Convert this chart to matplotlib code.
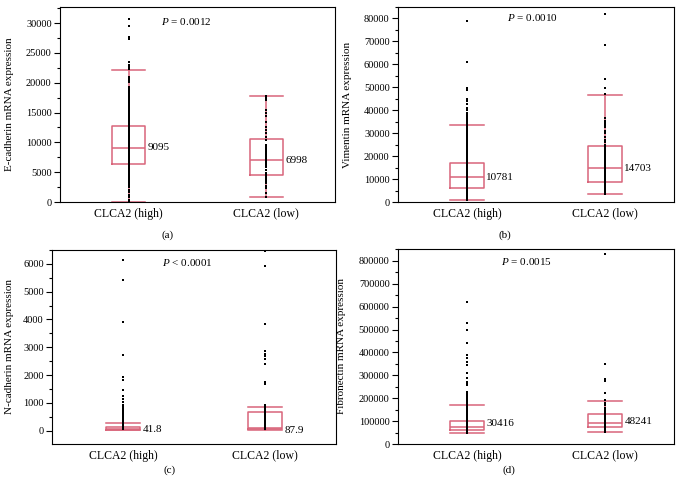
import matplotlib
matplotlib.use('Agg')
import matplotlib.pyplot as plt
from matplotlib.ticker import MultipleLocator

plt.rcParams['font.family'] = ['Liberation Serif', 'DejaVu Serif']
plt.rcParams['mathtext.fontset'] = 'custom'
plt.rcParams['mathtext.it'] = 'Liberation Serif:italic'
plt.rcParams['mathtext.rm'] = 'Liberation Serif'

groups = ['CLCA2 (high)', 'CLCA2 (low)']

# (a) E-cadherin
ecad_high = [30700, 29500, 27700, 27400, 23400, 23000, 22700, 22300, 21000, 20700,
             20400, 20100, 19300, 19000, 18700, 18400, 18100, 17800, 17500, 17200,
             16900, 16600, 16300, 16000, 15700, 15400, 15100, 14800, 14500, 14200,
             13900, 13600, 13300, 13000, 12700, 12400, 12100, 11800, 11500, 11200,
             10900, 10600, 10300, 10000, 9700, 9400, 9100, 8800, 8500, 8200, 7900,
             7600, 7300, 7000, 6700, 6400, 6100, 5800, 5500, 5200, 4900, 4600, 4300,
             4000, 3700, 3400, 3100, 2800, 2500, 2000, 1600, 1200, 800, 300, 0]
ecad_low = [17850, 17400, 17120, 15440, 14880, 14440, 13480, 12640, 12090, 11530,
            10860, 10410, 9570, 9290, 9010, 8730, 8450, 8170, 7890, 7610, 7330, 7050,
            6770, 6490, 6210, 5820, 5290, 4920, 4530, 4250, 3970, 3690, 3410, 3140,
            2690, 2300, 1460, 890]
ecad_stats = [(6330, 9095, 12800, 0, 22200), (4530, 6998, 10520, 900, 17700)]
ecad_labels = ['9095', '6998']

# (b) Vimentin
vim_high = [79000, 61000, 49500, 49000, 45000, 44000, 42500, 41000, 40000, 39000,
            38000, 37300, 36600, 36000, 35200, 34400, 33600, 32800, 32000, 31200,
            30400, 29600, 28800, 28000, 27200, 26400, 25600, 24800, 24000, 23200,
            22400, 21600, 20800, 20000, 19200, 18400, 17600, 16800, 16000, 15200,
            14400, 13600, 12800, 12000, 11200, 10400, 9600, 8800, 8000, 7200, 6400,
            5600, 4800, 4000, 3200, 2400, 1600, 900]
vim_low = [81800, 68500, 53500, 49500, 47000, 36500, 35500, 34500, 33500, 32500,
           31000, 30000, 28500, 27000, 26000, 25000, 24200, 23400, 22600, 21800,
           21000, 20200, 19400, 18600, 17800, 17000, 16200, 15400, 14600, 13800,
           13000, 12200, 11400, 10600, 9800, 9000, 8200, 7400, 6600, 5800, 5000,
           4200, 3400]
vim_stats = [(5980, 10781, 17200, 870, 33400), (8900, 14703, 24500, 3350, 46650)]
vim_labels = ['10781', '14703']

# (c) N-cadherin
ncad_high = [6150, 5430, 3920, 2720, 1920, 1830, 1470, 1230, 1140, 1020, 930, 880,
             830, 780, 740, 700, 660, 620, 580, 540, 500, 460, 420, 380, 340, 300,
             260, 220, 180, 140, 100, 60]
ncad_low = [6470, 5940, 3850, 2850, 2770, 2670, 2590, 2410, 1740, 1680, 910, 840,
            780, 720, 660, 600, 540, 480, 420, 360, 300, 240, 180, 120, 70]
ncad_stats = [(25, 60, 140, 10, 275), (60, 110, 670, 20, 850)]
ncad_labels = ['41.8', '87.9']

# (d) Fibronectin
fn_high = [620000, 530000, 500000, 442000, 390000, 375000, 360000, 346000, 310000,
           288000, 273000, 266000, 258000, 229000, 222000, 215000, 208000, 201000,
           194000, 187000, 180000, 173000, 166000, 159000, 152000, 145000, 138000,
           131000, 124000, 117000, 110000, 103000, 96000, 89000, 82000, 75000,
           68000, 61000, 54000, 49000]
fn_low = [830000, 348000, 282000, 276000, 225000, 193000, 181000, 171000, 156000,
          149000, 141000, 134000, 127000, 120000, 113000, 106000, 99000, 92000,
          85000, 78000, 71000, 64000, 57000, 54000]
fn_stats = [(61000, 76000, 102000, 49500, 171000), (73000, 93000, 131000, 52500, 188000)]
fn_labels = ['30416', '48241']

PINK = '#d9657a'
W, H = 677, 488


def panel(rect, high, low, stats, labels, label_y, ylim, major, minor,
          ylabel, ylab_x, ptext, ppos, tag, tagpos):
    l, r, t, b = rect
    ax = fig.add_axes([l / W, 1 - b / H, (r - l) / W, (b - t) / H])
    bxp = []
    for q1, med, q3, lo, hi in stats:
        bxp.append(dict(q1=q1, med=med, q3=q3, whislo=lo, whishi=hi, fliers=[]))
    lp = dict(color=PINK, linewidth=1.1)
    ax.bxp(bxp, positions=[1, 2], widths=0.24, showfliers=False,
           boxprops=lp, whiskerprops=lp, capprops=lp, medianprops=lp,
           capwidths=0.24, manage_ticks=False)
    for i, pts in enumerate([high, low]):
        ax.plot([i + 1] * len(pts), pts, 's', color='black', ms=1.9, mew=0, zorder=5)
        ax.text(i + 1.14, label_y[i], labels[i], fontsize=8, va='center', ha='left')
    ax.set_xlim(0.5, 2.5)
    ax.set_ylim(*ylim)
    ax.set_xticks([1, 2])
    ax.set_xticklabels(groups, fontsize=8.5)
    ax.tick_params(axis='x', length=0, pad=4)
    ax.yaxis.set_major_locator(MultipleLocator(major))
    ax.yaxis.set_minor_locator(MultipleLocator(minor))
    ax.tick_params(axis='y', which='major', length=4, width=0.8, labelsize=7.5, pad=2)
    ax.tick_params(axis='y', which='minor', length=2.5, width=0.8)
    ax.set_ylabel(ylabel, fontsize=8)
    ax.yaxis.set_label_coords(ylab_x, 0.5)
    for s in ax.spines.values():
        s.set_linewidth(0.8)
    ax.text(ppos[0], ppos[1], ptext, transform=ax.transAxes, fontsize=8,
            ha='center', va='center')
    fig.text(tagpos[0] / W, 1 - tagpos[1] / H, tag, fontsize=8, ha='center', va='center')
    return ax


fig = plt.figure(figsize=(W / 100, H / 100), dpi=100)

panel((60, 335, 7, 202), ecad_high, ecad_low, ecad_stats, ecad_labels, [9095, 6998],
      (0, 32700), 5000, 2500, 'E-cadherin mRNA expression', -0.167,
      '$P$ = 0.0012', (0.458, 0.928), '(a)', (168, 235))
panel((398, 674, 7, 202), vim_high, vim_low, vim_stats, vim_labels, [10781, 14703],
      (0, 85000), 10000, 5000, 'Vimentin mRNA expression', -0.167,
      '$P$ = 0.0010', (0.486, 0.944), '(b)', (505, 235))
panel((52, 336, 250, 444), ncad_high, ncad_low, ncad_stats, ncad_labels, [40, 10],
      (-480, 6500), 1000, 500, 'N-cadherin mRNA expression', -0.134,
      '$P$ < 0.0001', (0.475, 0.933), '(c)', (170, 470))
panel((398, 674, 249, 444), fn_high, fn_low, fn_stats, fn_labels, [87500, 97600],
      (0, 852000), 100000, 50000, 'Fibronectin mRNA expression', -0.188,
      '$P$ = 0.0015', (0.467, 0.938), '(d)', (509, 470))

fig.savefig('out.png', dpi=100)
